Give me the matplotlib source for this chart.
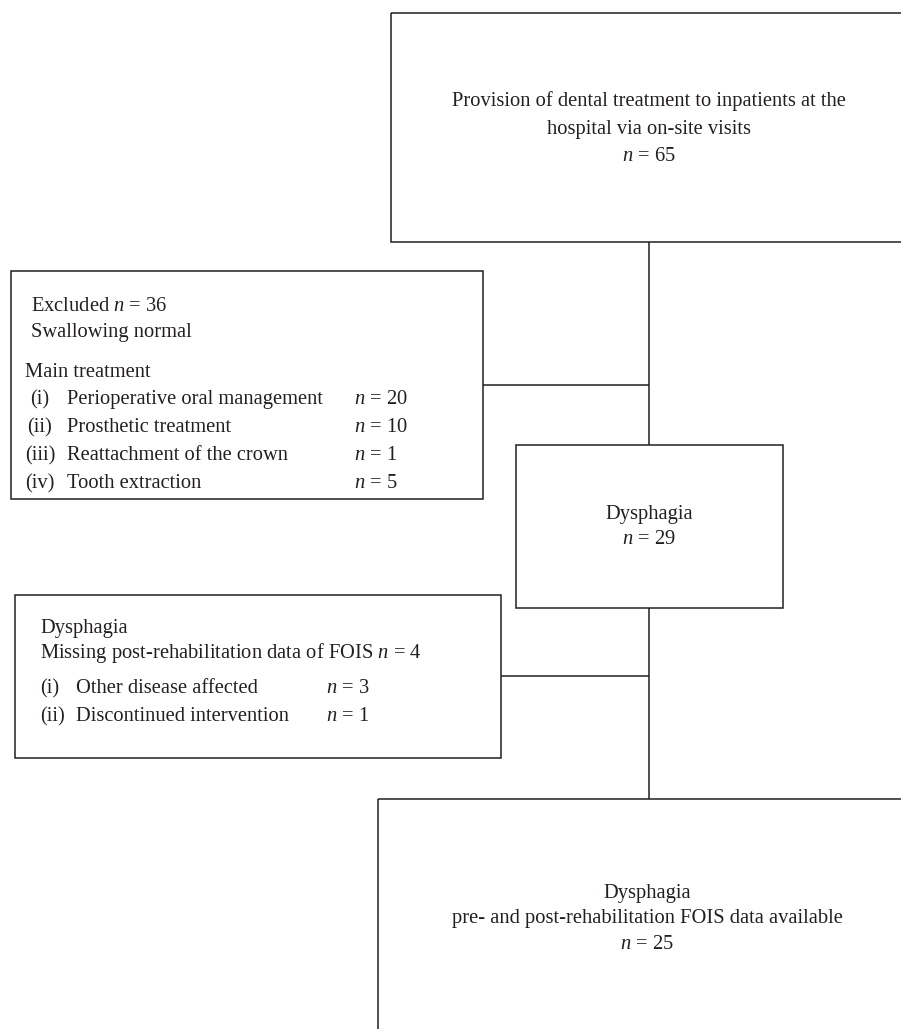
import matplotlib
matplotlib.use("Agg")
import matplotlib.pyplot as plt
from matplotlib.patches import Rectangle

# ---- data ----
total_n = 65
excluded_n = 36
treatments = ["Perioperative oral management", "Prosthetic treatment",
              "Reattachment of the crown", "Tooth extraction"]
treatment_n = [20, 10, 1, 5]
roman = ["(i)", "(ii)", "(iii)", "(iv)"]
dysphagia_n = 29
missing_n = 4
missing_reasons = ["Other disease affected", "Discontinued intervention"]
missing_reason_n = [3, 1]
final_n = 25

plt.rcParams['font.family'] = ['Liberation Serif', 'DejaVu Serif']
plt.rcParams['mathtext.fontset'] = 'custom'
plt.rcParams['mathtext.it'] = 'Liberation Serif:italic'
plt.rcParams['mathtext.rm'] = 'Liberation Serif'

W, H = 901, 1029
fig = plt.figure(figsize=(W / 100, H / 100), dpi=100)
ax = fig.add_axes([0, 0, 1, 1])
ax.set_xlim(0, W)
ax.set_ylim(H, 0)
ax.axis('off')

LC = '#231f20'
LW = 1.1
FS = 14.8
TC = '#231f20'

def box(x0, y0, x1, y1):
    ax.add_patch(Rectangle((x0, y0), x1 - x0, y1 - y0, fill=False,
                           edgecolor=LC, linewidth=LW, clip_on=False))

def line(xs, ys):
    ax.plot(xs, ys, color=LC, linewidth=LW, solid_capstyle='butt')

def t(x, y, s, ha='left'):
    ax.text(x, y, s, ha=ha, va='baseline', fontsize=FS, color=TC)

nstr = lambda v: r"$n$ = %d" % v

cx = 649
# boxes
box(391, 13, 930, 242)
box(11, 271, 483, 499)
box(516, 445, 783, 608)
box(15, 595, 501, 758)
box(378, 799, 930, 1060)

# connectors
line([cx, cx], [242, 445])
line([483, cx], [385, 385])
line([cx, cx], [608, 799])
line([501, cx], [676, 676])

B = 6  # baseline offset from visual line centre

# top box text
t(cx, 100 + B, "Provision of dental treatment to inpatients at the", 'center')
t(cx, 128 + B, "hospital via on-site visits", 'center')
t(cx, 155 + B, nstr(total_n), 'center')

# excluded box
t(31, 305 + B, "Excluded " + nstr(excluded_n))
t(31, 331 + B, "Swallowing normal")
t(25, 371 + B, "Main treatment")
ys = [398, 426, 454, 482]
for r, name, v, y in zip(roman, treatments, treatment_n, ys):
    t(40, y + B, r, 'center')
    t(67, y + B, name)
    t(354, y + B, nstr(v))

# dysphagia
t(cx, 513 + B, "Dysphagia", 'center')
t(cx, 538 + B, nstr(dysphagia_n), 'center')

# missing box
t(40, 627 + B, "Dysphagia")
t(40, 652 + B, "Missing post-rehabilitation data of FOIS " + nstr(missing_n))
for r, name, v, y in zip(["(i)", "(ii)"], missing_reasons, missing_reason_n, [687, 715]):
    t(40, y + B, r)
    t(76, y + B, name)
    t(326, y + B, nstr(v))

# final box
t(647, 892 + B, "Dysphagia", 'center')
t(647, 917 + B, "pre- and post-rehabilitation FOIS data available", 'center')
t(647, 943 + B, nstr(final_n), 'center')

fig.savefig("out.png", dpi=100)
